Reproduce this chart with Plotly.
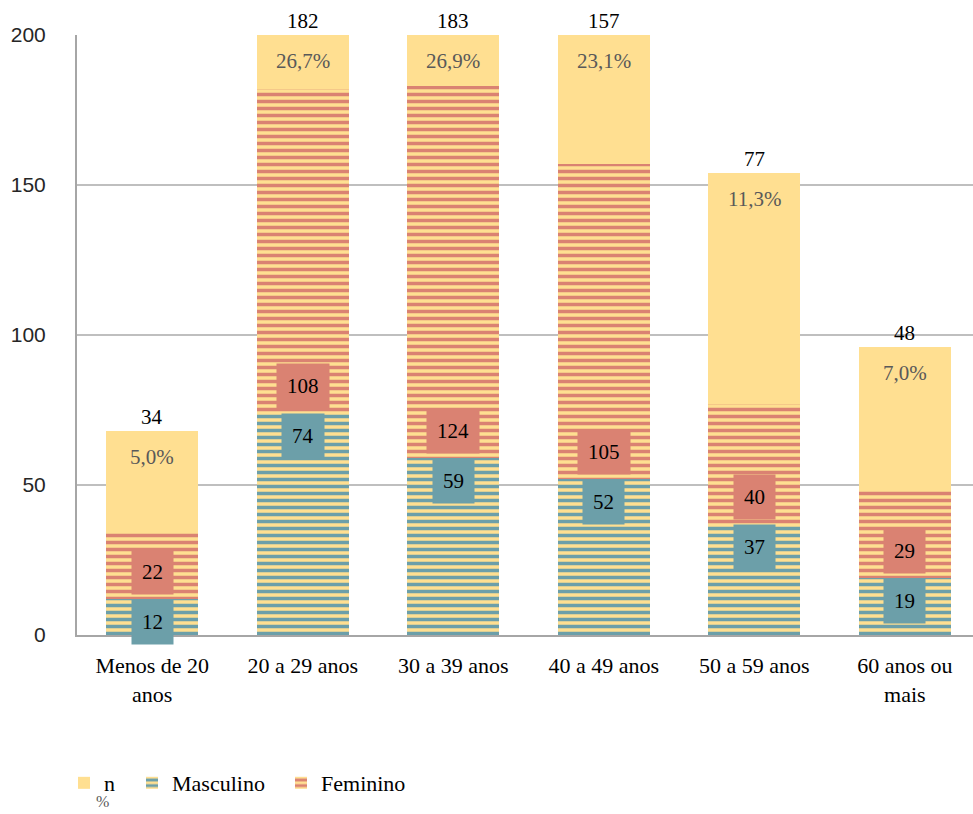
import plotly.graph_objects as go

# Age groups and counts by sex
categories = ["Menos de 20<br>anos", "20 a 29 anos", "30 a 39 anos",
              "40 a 49 anos", "50 a 59 anos", "60 anos ou<br>mais"]
masculino = [12, 74, 59, 52, 37, 19]
feminino = [22, 108, 124, 105, 40, 29]
total_n = [34, 182, 183, 157, 77, 48]
percent = [5.0, 26.7, 26.9, 23.1, 11.3, 7.0]

YELLOW = "#FFDF91"
TEAL = "#6C9FA9"
SALMON = "#DA8272"
SERIF = "Liberation Serif, Times New Roman, serif"
Y_MAX = 200

x_pos = list(range(len(categories)))


def striped(color):
    return dict(color=color, line=dict(width=0),
                pattern=dict(shape="-", size=7, solidity=0.5, fgopacity=1,
                             fgcolor=color, bgcolor=YELLOW, fillmode="overlay"))


fig = go.Figure()
fig.add_trace(go.Bar(x=x_pos, y=masculino, name="Masculino", width=0.61,
                     legend="legend2", marker=striped(TEAL)))
fig.add_trace(go.Bar(x=x_pos, y=feminino, name="Feminino", width=0.61,
                     legend="legend3", marker=striped(SALMON)))
fig.add_trace(go.Bar(x=x_pos, y=total_n, name="n", width=0.61,
                     legend="legend", marker=dict(color=YELLOW, line=dict(width=0))))

annotations = []
for i in x_pos:
    m = masculino[i]
    f_top = m + feminino[i]
    n_top = f_top + total_n[i]
    shown_top = min(n_top, Y_MAX)
    # value boxes for the sex segments
    annotations.append(dict(
        x=i, y=m, xref="x", yref="y", text=str(m), showarrow=False,
        yanchor="top", yshift=0, bgcolor=TEAL, borderpad=10,
        font=dict(family=SERIF, size=21, color="#000000"),
    ))
    annotations.append(dict(
        x=i, y=m, xref="x", yref="y", text=str(feminino[i]), showarrow=False,
        yanchor="bottom", yshift=4, bgcolor=SALMON, borderpad=10,
        font=dict(family=SERIF, size=21, color="#000000"),
    ))
    # n above the bar, share inside its top
    annotations.append(dict(
        x=i, y=shown_top, xref="x", yref="y", text=str(total_n[i]),
        showarrow=False, yanchor="bottom", yshift=0,
        font=dict(family=SERIF, size=21, color="#000000"),
    ))
    annotations.append(dict(
        x=i, y=shown_top, xref="x", yref="y",
        text=f"{percent[i]:.1f}%".replace(".", ","),
        showarrow=False, yanchor="top", yshift=-12,
        font=dict(family=SERIF, size=21, color="#595959"),
    ))

# second line of the "n" legend entry
annotations.append(dict(
    x=0.029, y=-0.278, xref="paper", yref="paper", text="%",
    showarrow=False, xanchor="center", yanchor="middle",
    font=dict(family=SERIF, size=16, color="#595959"),
))

legend_style = dict(orientation="h", yanchor="middle", y=-0.2467,
                    xanchor="left", bgcolor="rgba(0,0,0,0)",
                    font=dict(family=SERIF, size=22, color="#000000"),
                    itemwidth=30)

fig.update_layout(
    width=973, height=814,
    margin=dict(l=77, r=0, t=35, b=179, autoexpand=False),
    barmode="stack",
    bargap=0,
    plot_bgcolor="white", paper_bgcolor="white",
    showlegend=True,
    legend=dict(x=-0.0145, **legend_style),
    legend2=dict(x=0.0614, **legend_style),
    legend3=dict(x=0.2277, **legend_style),
    annotations=annotations,
)
fig.update_xaxes(
    range=[-0.5, 5.453],
    tickmode="array", tickvals=x_pos, ticktext=categories,
    tickfont=dict(family=SERIF, size=22, color="#000000"),
    showline=True, linecolor="#A6A6A6", linewidth=2,
    showgrid=False, ticks="", ticklabelstandoff=10,
)
fig.update_yaxes(
    range=[0, Y_MAX], tickvals=[0, 50, 100, 150, 200],
    tickfont=dict(family="Liberation Sans, Arial, sans-serif", size=21, color="#262626"),
    showgrid=True, gridcolor="#BFBFBF", gridwidth=1.5,
    showline=True, linecolor="#A6A6A6", linewidth=2,
    zeroline=False, ticks="", ticklabelstandoff=25,
)

fig.write_html("out.html")
